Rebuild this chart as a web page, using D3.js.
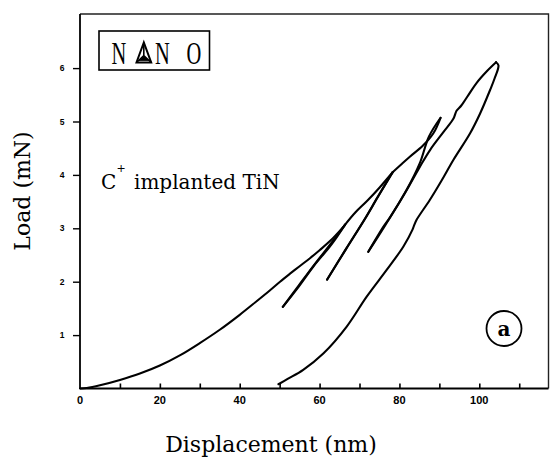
<!DOCTYPE html>
<html>
<head>
<meta charset="utf-8">
<script src="https://cdn.jsdelivr.net/npm/d3@7"></script>
<style>
  html, body { margin: 0; padding: 0; background: #fff; }
  svg { display: block; }
</style>
</head>
<body>
<svg id="chart" width="550" height="462"></svg>
<script>
// ---- data (displacement nm, load mN) ----
const xTicks = [0, 10, 20, 30, 40, 50, 60, 70, 80, 90, 100, 110];
const xTickLabels = [0, 20, 40, 60, 80, 100];
const yTicks = [1, 2, 3, 4, 5, 6];
const xTitle = "Displacement (nm)";
const yTitle = "Load (mN)";
const sampleIon = "C";
const sampleCharge = "+";
const sampleLabel = "implanted TiN";
const panelLabel = "a";

const loading1 = [[0,0],[1.7,0.01],[5,0.06],[10,0.16],[15,0.28],[20,0.43],[25,0.62],[30,0.85],[35,1.1],[40,1.38],[44,1.62],[47.6,1.84],[50.1,2.0],[52.6,2.15],[55,2.29],[57.6,2.44],[60,2.59],[62.6,2.76],[65.5,2.99],[66.4,3.07]];
const unloading1 = [[66.4,3.07],[63,2.7],[58.4,2.28],[54.5,1.88],[50.8,1.53]];
const reloading1 = [[50.8,1.53],[54.8,1.93],[58.7,2.32],[63.2,2.75],[66.4,3.07]];
const loading2 = [[66.4,3.07],[69.0,3.30],[72.0,3.52],[75.1,3.77],[78.3,4.05]];
const unloading2 = [[78.3,4.05],[74.5,3.58],[71.2,3.16],[66.5,2.6],[61.9,2.04]];
const reloading2 = [[61.9,2.04],[66.7,2.62],[71.4,3.18],[74.7,3.6],[78.3,4.05]];
const loading3 = [[78.3,4.05],[80.5,4.2],[82.6,4.34],[85.9,4.55],[88.5,4.78],[90.3,5.07]];
const unloading3 = [[90.3,5.07],[87.4,4.72],[85.1,4.22],[81.8,3.72],[77.6,3.2],[76.0,3.03],[72.2,2.56]];
const reloading3 = [[72.2,2.56],[76.3,3.04],[81.4,3.66],[85.1,4.15],[87.7,4.47],[91.0,4.80],[93.5,5.05],[94.3,5.2],[95.5,5.30],[97.3,5.5],[99.3,5.72],[102,5.95],[104.2,6.11]];
const unloading4 = [[104.2,6.11],[104.8,6.05],[103.8,5.8],[102.7,5.59],[100.2,5.15],[97.7,4.78],[93.5,4.28],[90.6,3.90],[87.6,3.53],[84.3,3.16],[83.7,3.06],[83.3,2.98],[81.0,2.66],[76.8,2.22],[71.8,1.72],[66.8,1.16],[61.0,0.66],[55.9,0.35],[52,0.18],[49.7,0.08]];

const segments = [loading1, unloading1, reloading1, loading2, unloading2, reloading2, loading3, unloading3, reloading3, unloading4];

// ---- layout ----
const svg = d3.select("#chart");
const frame = {left: 80, right: 548.5, top: 14, bottom: 388.5};
const x = d3.scaleLinear().domain([0, 100]).range([80, 479.3]);
const y = d3.scaleLinear().domain([0, 6]).range([388.5, 68.1]);

// frame (top & right)
svg.append("path")
  .attr("d", `M${frame.left},${frame.top}H${frame.right}V${frame.bottom}`)
  .attr("fill", "none").attr("stroke", "#222").attr("stroke-width", 1.4);

// x axis (ticks inward)
const xAxis = d3.axisTop(x).tickValues(xTicks.filter(d => d > 0)).tickSize(5).tickFormat("");
const gx = svg.append("g").attr("transform", `translate(0,${frame.bottom})`).call(xAxis);
gx.select(".domain").remove();
gx.selectAll(".tick line").attr("stroke", "#000").attr("stroke-width", 1.6);
svg.append("line").attr("x1", frame.left).attr("x2", frame.right)
  .attr("y1", frame.bottom).attr("y2", frame.bottom)
  .attr("stroke", "#000").attr("stroke-width", 1.8);
svg.append("g").selectAll("text").data(xTickLabels).join("text")
  .attr("x", d => x(d)).attr("y", 403.5)
  .attr("text-anchor", "middle")
  .attr("font-family", "Liberation Sans, Arial, sans-serif")
  .attr("font-weight", "bold").attr("font-size", 11)
  .text(d => d);

// y axis (ticks outward)
const yAxis = d3.axisLeft(y).tickValues(yTicks).tickSize(7).tickFormat("");
const gy = svg.append("g").attr("transform", `translate(${frame.left},0)`).call(yAxis);
gy.select(".domain").remove();
gy.selectAll(".tick line").attr("stroke", "#000").attr("stroke-width", 1.4);
svg.append("line").attr("x1", frame.left).attr("x2", frame.left)
  .attr("y1", frame.top).attr("y2", frame.bottom)
  .attr("stroke", "#000").attr("stroke-width", 1.8);
svg.append("g").selectAll("text").data(yTicks).join("text")
  .attr("x", 62).attr("y", d => y(d) + 3)
  .attr("text-anchor", "middle")
  .attr("font-family", "Liberation Sans, Arial, sans-serif")
  .attr("font-weight", "bold").attr("font-size", 8.5)
  .text(d => d);

// axis titles
svg.append("text").attr("x", 271).attr("y", 452)
  .attr("text-anchor", "middle")
  .attr("font-family", "DejaVu Serif, serif").attr("font-size", 22)
  .text(xTitle);
svg.append("text").attr("transform", "translate(29.5,191) rotate(-90)")
  .attr("text-anchor", "middle")
  .attr("font-family", "DejaVu Serif, serif").attr("font-size", 22)
  .text(yTitle);

// curves
const line = d3.line().x(d => x(d[0])).y(d => y(d[1])).curve(d3.curveCatmullRom.alpha(0.5));
svg.append("g").selectAll("path").data(segments).join("path")
  .attr("d", line)
  .attr("fill", "none").attr("stroke", "#000")
  .attr("stroke-width", 2.1).attr("stroke-linejoin", "round").attr("stroke-linecap", "round");

// sample annotation
const annFont = "DejaVu Serif, serif";
svg.append("text").attr("x", 101).attr("y", 189)
  .attr("font-family", annFont).attr("font-size", 20).text(sampleIon);
svg.append("text").attr("x", 116.5).attr("y", 172)
  .attr("font-family", annFont).attr("font-size", 11).text(sampleCharge);
svg.append("text").attr("x", 134).attr("y", 189)
  .attr("font-family", annFont).attr("font-size", 20).text(sampleLabel);

// NANO logo box
svg.append("rect").attr("x", 99).attr("y", 31).attr("width", 110.5).attr("height", 39)
  .attr("fill", "none").attr("stroke", "#000").attr("stroke-width", 1.6);
const logoLetters = [["N", 119], ["N", 162.5], ["O", 194]];
svg.append("g").selectAll("text").data(logoLetters).join("text")
  .attr("transform", d => `translate(${d[1]},63.5) scale(0.66,1)`)
  .attr("text-anchor", "middle")
  .attr("font-family", "Liberation Serif, serif").attr("font-size", 31)
  .text(d => d[0]);
// triangle (indenter) glyph
const tri = svg.append("g").attr("fill", "none").attr("stroke", "#000");
tri.append("path").attr("d", "M143.8,42.5L136.5,62.5H151.2Z").attr("stroke-width", 2);
tri.append("path").attr("d", "M143.8,42.5L143.8,55.5M136.5,62.5L143.8,55.5L151.2,62.5").attr("stroke-width", 1.6);
tri.append("path").attr("d", "M139,60.5L143.8,56L148.6,60.5Z").attr("fill", "#000").attr("stroke-width", 0.8);

// panel label
svg.append("circle").attr("cx", 504).attr("cy", 328.5).attr("r", 17.5)
  .attr("fill", "none").attr("stroke", "#000").attr("stroke-width", 1.8);
svg.append("text").attr("x", 504).attr("y", 335.5)
  .attr("text-anchor", "middle")
  .attr("font-family", "DejaVu Serif, serif").attr("font-weight", "bold").attr("font-size", 20)
  .text(panelLabel);
</script>
</body>
</html>
